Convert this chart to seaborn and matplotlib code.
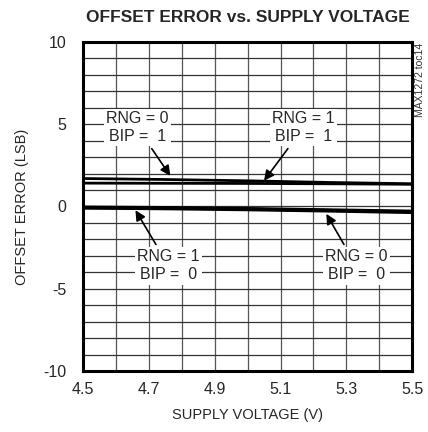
import matplotlib
matplotlib.use("Agg")
import matplotlib.pyplot as plt
import seaborn as sns
import pandas as pd

# supply voltage sweep (V) and offset error (LSB) per mode
voltage = [4.5, 4.75, 5.0, 5.25, 5.5]
rng0_bip1 = [1.70, 1.64, 1.56, 1.46, 1.38]
rng1_bip1 = [1.42, 1.41, 1.40, 1.38, 1.35]
rng1_bip0 = [-0.05, -0.08, -0.14, -0.22, -0.30]
rng0_bip0 = [-0.08, -0.12, -0.18, -0.26, -0.35]

x_ticks = [4.5, 4.7, 4.9, 5.1, 5.3, 5.5]
y_ticks = [-10, -5, 0, 5, 10]

df = pd.concat([
  pd.DataFrame({"v": voltage, "err": rng0_bip1, "mode": "RNG = 0\nBIP =  1"}),
  pd.DataFrame({"v": voltage, "err": rng1_bip1, "mode": "RNG = 1\nBIP =  1"}),
  pd.DataFrame({"v": voltage, "err": rng1_bip0, "mode": "RNG = 1\nBIP =  0"}),
  pd.DataFrame({"v": voltage, "err": rng0_bip0, "mode": "RNG = 0\nBIP =  0"}),
])

sns.set_style("white")
plt.rcParams['font.family'] = ['Liberation Sans', 'DejaVu Sans']
plt.rcParams['axes.unicode_minus'] = False

fig = plt.figure(figsize=(4.28, 4.32), dpi=100)
ax = fig.add_axes([0.194, 0.141, 0.769, 0.762])

# grid first so the label boxes can sit on top of it
for gx in [4.5 + 0.1 * i for i in range(11)]:
  ax.axvline(gx, color="#555555", lw=0.9, zorder=1)
for gy in range(-10, 11):
  ax.axhline(gy, color="#333333", lw=0.9, zorder=1)

widths = {"RNG = 0\nBIP =  1": 2.0, "RNG = 1\nBIP =  1": 2.0,
          "RNG = 1\nBIP =  0": 2.6, "RNG = 0\nBIP =  0": 2.6}
for mode, sub in df.groupby("mode", sort=False):
  sns.lineplot(data=sub, x="v", y="err", color="black", lw=widths[mode], ax=ax, zorder=3,
               legend=False)

ax.set_xlim(4.5, 5.5)
ax.set_ylim(-10, 10)
ax.set_xticks(x_ticks)
ax.set_xticklabels([f"{t:.1f}" for t in x_ticks])
ax.set_yticks(y_ticks)
ax.tick_params(length=0, labelsize=11.5)
ax.tick_params(axis="x", pad=8)
ax.tick_params(axis="y", pad=12)
for s in ax.spines.values():
  s.set_linewidth(2.2)
  s.set_color("black")
  s.set_zorder(5)

ax.set_xlabel("SUPPLY VOLTAGE (V)", fontsize=10.5, labelpad=8)
ax.set_ylabel("OFFSET ERROR (LSB)", fontsize=10.5, labelpad=10)
ax.set_title("OFFSET ERROR vs. SUPPLY VOLTAGE", fontsize=12.5, fontweight="bold", pad=14)

box = dict(boxstyle="square,pad=0.15", fc="white", ec="none")
arrow = dict(arrowstyle="-|>", color="black", lw=1.2, mutation_scale=15)
notes = [
  ("RNG = 0\nBIP =  1", (4.77, 1.72), (4.665, 4.8)),
  ("RNG = 1\nBIP =  1", (5.045, 1.43), (5.17, 4.8)),
  ("RNG = 1\nBIP =  0", (4.655, -0.08), (4.76, -3.6)),
  ("RNG = 0\nBIP =  0", (5.235, -0.30), (5.33, -3.6)),
]
for txt, tip, pos in notes:
  ax.annotate(txt, xy=tip, xytext=pos, ha="center", va="center", fontsize=11.5,
              linespacing=1.25, bbox=box, arrowprops=arrow, zorder=4)

fig.text(0.981, 0.815, "MAX1272 toc14", rotation=90, fontsize=7.5, ha="center", va="center",
         color="#333333")

fig.savefig("out.png", dpi=100)
